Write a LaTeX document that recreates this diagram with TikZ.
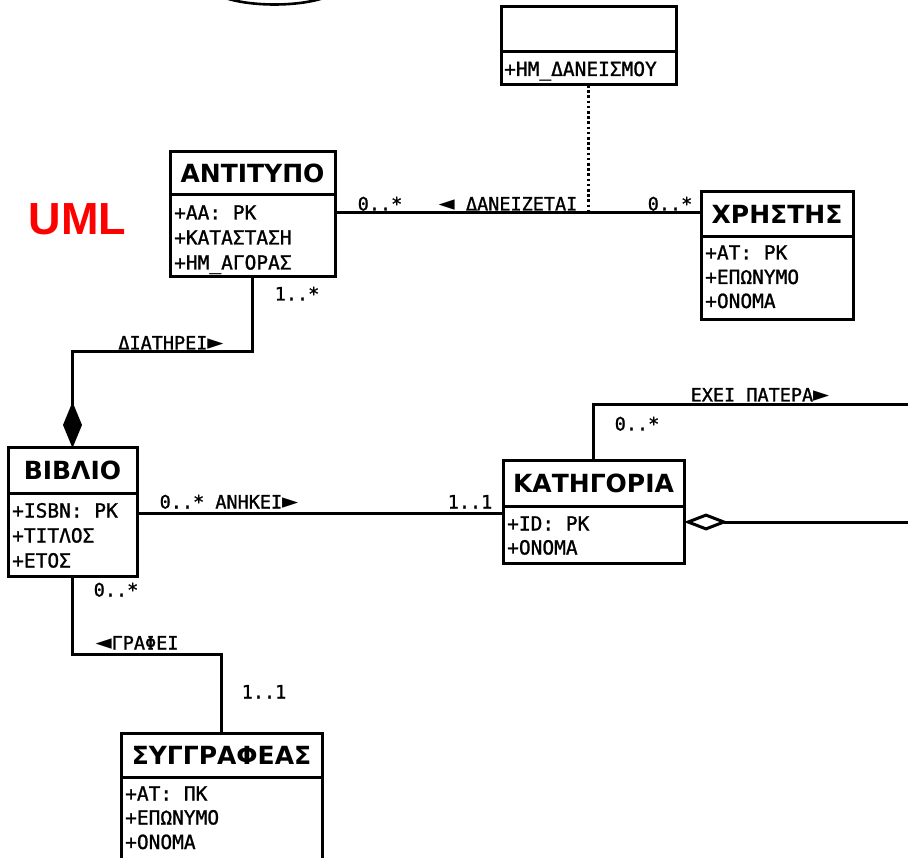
\documentclass[tikz,border=0pt]{standalone}
\usepackage{fontspec}
\usetikzlibrary{arrows.meta}
\newfontfamily\clsfont{DejaVu Sans}
\newfontfamily\attrfont[FakeBold=1.2]{DejaVu Sans Mono}
\newfontfamily\symfont{DejaVu Sans}
\newfontfamily\umlfont{Liberation Sans}
\newcommand\lt{{\symfont\fontsize{21}{21}\selectfont ◄}}
\newcommand\rt{{\symfont\fontsize{21}{21}\selectfont ►}}
\tikzset{
  lw/.style={line width=3pt},
  clshead/.style={draw, lw, rectangle, inner sep=0pt, outer sep=0pt, anchor=north west,
    font=\clsfont\bfseries\fontsize{25}{26}\selectfont, text height=18pt, text depth=0pt},
  clsbody/.style={draw, lw, rectangle, inner sep=0pt, outer sep=0pt, anchor=north west},
  attr/.style={anchor=base west, inner sep=0pt, font=\attrfont\fontsize{19.5}{20}\selectfont},
  lbl/.style={anchor=base, inner sep=0pt, font=\attrfont\fontsize{18.5}{20}\selectfont},
  conn/.style={lw},
}
\begin{document}
\begin{tikzpicture}[x=1pt,y=-1pt]
\useasboundingbox (0,0) rectangle (908,858);
\clip (0,0) rectangle (908,858);
\fill[white] (0,0) rectangle (908,858);

% cropped ellipse at the top
\draw[line width=2.6pt] (274.5,-15) ellipse [x radius=66, y radius=19.5];

% title
\node[anchor=base, inner sep=0pt, text=red, font=\umlfont\bfseries\fontsize{45}{45}\selectfont] (uml) at (77.5,235) {UML};

% association class
\node[clshead, minimum width=175pt, minimum height=45pt] (asH) at (501,7) {};
\node[clsbody, minimum width=175pt, minimum height=33pt] (asA) at (asH.south west) {};
\node[attr] (as1) at ([xshift=3pt,yshift=-24pt]asA.north west) {+ΗΜ\_ΔΑΝΕΙΣΜΟΥ};

% ANTITYPO
\node[clshead, minimum width=165pt, minimum height=43pt] (antH) at (170,152) {ΑΝΤΙΤΥΠΟ};
\node[clsbody, minimum width=165pt, minimum height=82pt] (antA) at (antH.south west) {};
\node[attr] (ant1) at ([xshift=4pt,yshift=-24.5pt]antA.north west) {+ΑΑ: PK};
\node[attr] (ant2) at ([xshift=4pt,yshift=-49.5pt]antA.north west) {+ΚΑΤΑΣΤΑΣΗ};
\node[attr] (ant3) at ([xshift=4pt,yshift=-74.5pt]antA.north west) {+ΗΜ\_ΑΓΟΡΑΣ};

% XRHSTHS
\node[clshead, minimum width=152pt, minimum height=45pt] (xrH) at (701,192) {ΧΡΗΣΤΗΣ};
\node[clsbody, minimum width=152pt, minimum height=83pt] (xrA) at (xrH.south west) {};
\node[attr] (xr1) at ([xshift=4pt,yshift=-22.5pt]xrA.north west) {+ΑΤ: PK};
\node[attr] (xr2) at ([xshift=4pt,yshift=-47pt]xrA.north west) {+ΕΠΩΝΥΜΟ};
\node[attr] (xr3) at ([xshift=4pt,yshift=-71pt]xrA.north west) {+ΟΝΟΜΑ};

% BIBLIO
\node[clshead, minimum width=129pt, minimum height=45pt] (biH) at (8,448) {ΒΙΒΛΙΟ};
\node[clsbody, minimum width=129pt, minimum height=83pt] (biA) at (biH.south west) {};
\node[attr] (bi1) at ([xshift=4pt,yshift=-24.5pt]biA.north west) {+ISBN: PK};
\node[attr] (bi2) at ([xshift=4pt,yshift=-49.5pt]biA.north west) {+ΤΙΤΛΟΣ};
\node[attr] (bi3) at ([xshift=4pt,yshift=-74.5pt]biA.north west) {+ΕΤΟΣ};

% KATHGORIA
\node[clshead, minimum width=181pt, minimum height=45pt] (kaH) at (503,461) {ΚΑΤΗΓΟΡΙΑ};
\node[clsbody, minimum width=181pt, minimum height=57pt] (kaA) at (kaH.south west) {};
\node[attr] (ka1) at ([xshift=4pt,yshift=-24.5pt]kaA.north west) {+ID: PK};
\node[attr] (ka2) at ([xshift=4pt,yshift=-48.5pt]kaA.north west) {+ΟΝΟΜΑ};

% SYGGRAFEAS
\node[clshead, minimum width=201pt, minimum height=44pt] (syH) at (121,733) {ΣΥΓΓΡΑΦΕΑΣ};
\node[clsbody, minimum width=201pt, minimum height=140pt] (syA) at (syH.south west) {};
\node[attr] (sy1) at ([xshift=4pt,yshift=-23.5pt]syA.north west) {+ΑΤ: ΠΚ};
\node[attr] (sy2) at ([xshift=4pt,yshift=-47.5pt]syA.north west) {+ΕΠΩΝΥΜΟ};
\node[attr] (sy3) at ([xshift=4pt,yshift=-72pt]syA.north west) {+ΟΝΟΜΑ};

% helper coordinates
\coordinate (danY) at (0,213);
\coordinate (diaY) at (0,352);
\coordinate (aneY) at (0,513);
\coordinate (graY) at (0,654);
\coordinate (selfX) at (593,0);
\coordinate (selfR) at (930,405);
\coordinate (aggY) at (0,522);

% ΔΑΝΕΙΖΕΤΑΙ
\draw[conn] (antA.east |- danY) -- (xrH.west |- danY);
\draw[line width=2.8pt, dash pattern=on 2.6pt off 2.6pt] (asA.south) -- (asA.south |- danY);
\node[lbl] (m1) at (380,210.5) {0..*};
\node[lbl] (m2) at (508,210.5) {\lt\ ΔΑΝΕΙΖΕΤΑΙ};
\node[lbl] (m3) at (670,210.5) {0..*};

% ΔΙΑΤΗΡΕΙ (composition)
\draw[conn, -{Diamond[length=46pt, width=19pt]}] (antA.south) -- (antA.south |- diaY) -- (biH.north |- diaY) -- (biH.north);
\node[lbl] (m4) at (297,300.5) {1..*};
\node[lbl] (m5) at (171,349.5) {ΔΙΑΤΗΡΕΙ\rt};

% ΑΝΗΚΕΙ
\draw[conn] (biA.east |- aneY) -- (kaA.west |- aneY);
\node[lbl] (m6) at (229,508.5) {0..* ΑΝΗΚΕΙ\rt};
\node[lbl] (m7) at (470,508.5) {1..1};

% ΓΡΑΦΕΙ
\draw[conn] (biA.south) -- (biA.south |- graY) -- (syH.north |- graY) -- (syH.north);
\node[lbl] (m8) at (116,596.5) {0..*};
\node[lbl] (m9) at (137,649.5) {\lt ΓΡΑΦΕΙ};
\node[lbl] (m10) at (264,698.5) {1..1};

% ΕΧΕΙ ΠΑΤΕΡΑ (aggregation, self)
\draw[conn, {Diamond[open, length=44pt, width=17pt]}-] (kaA.east |- aggY) -- (selfR |- aggY) -- (selfR) -| (kaH.north -| selfX);
\node[lbl] (m11) at (760,401.5) {ΕΧΕΙ ΠΑΤΕΡΑ\rt};
\node[lbl] (m12) at (637,430.5) {0..*};
\end{tikzpicture}
\end{document}
